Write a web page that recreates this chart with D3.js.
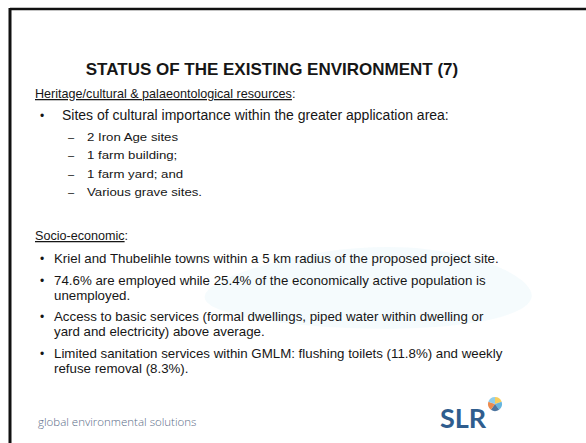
<!DOCTYPE html>
<html>
<head>
<meta charset="utf-8">
<script src="https://cdn.jsdelivr.net/npm/d3@7.9.0/dist/d3.min.js"></script>
<style>
  html, body { margin: 0; padding: 0; background: #fff; }
  svg { display: block; }
  text { font-family: "Liberation Sans", Arial, sans-serif; fill: #161616; }
</style>
</head>
<body>
<svg id="slide" width="586" height="443"></svg>
<script>
// --- Slide content ---
const title = 'STATUS OF THE EXISTING ENVIRONMENT (7)';
const headings = ['Heritage/cultural & palaeontological resources', 'Socio-economic'];
const heritageBullets = [['Sites of cultural importance within the greater application area:']];
const heritageSubItems = ['2 Iron Age sites', '1 farm building;', '1 farm yard; and', 'Various grave sites.'];
const socioBullets = [
  ['Kriel and Thubelihle towns within a 5 km radius of the proposed project site.'],
  ['74.6% are employed while 25.4% of the economically active population is', 'unemployed.'],
  ['Access to basic services (formal dwellings, piped water within dwelling or', 'yard and electricity) above average.'],
  ['Limited sanitation services within GMLM: flushing toilets (11.8%) and weekly', 'refuse removal (8.3%).']
];
const footerText = 'global environmental solutions';
const logoText = 'SLR';

const svg = d3.select('#slide');
const W = 586, H = 443;

// faint watermark swoosh
svg.append('path')
  .attr('d', d3.line().curve(d3.curveBasisClosed)([[150, 300], [330, 240], [480, 250], [560, 300], [470, 330], [300, 330]]))
  .attr('fill', '#eef9fb').attr('opacity', 0.6);

// slide frame (left + top rule)
svg.append('line').attr('x1', 10).attr('x2', W).attr('y1', 9).attr('y2', 9)
  .attr('stroke', '#111').attr('stroke-width', 2.5);
svg.append('line').attr('x1', 10).attr('x2', 10).attr('y1', 8).attr('y2', H)
  .attr('stroke', '#111').attr('stroke-width', 3);

// title
svg.append('text')
  .attr('x', 272).attr('y', 75)
  .attr('text-anchor', 'middle')
  .style('font-weight', 'bold').style('font-size', '17px')
  .text(title);

function heading(txt, y) {
  const t = svg.append('text').attr('x', 35).attr('y', y)
    .style('font-size', '12.6px');
  t.append('tspan').style('text-decoration', 'underline').text(txt);
  t.append('tspan').text(':');
}

function bullets(list, y0, textX, gap, lineH, size) {
  let y = y0;
  list.forEach(lines => {
    svg.append('text').attr('x', 40).attr('y', y).style('font-size', '12px').text('•');
    lines.forEach((ln, i) => {
      svg.append('text').attr('x', textX).attr('y', y + i * lineH)
        .style('font-size', size + 'px').text(ln);
    });
    y += (lines.length - 1) * lineH + gap;
  });
}

heading(headings[0], 98);
bullets(heritageBullets, 120, 62, 20, 14, 14);

const ySub = d3.scalePoint().domain(heritageSubItems).range([141, 196]);
heritageSubItems.forEach(s => {
  svg.append('text').attr('x', 68).attr('y', ySub(s)).style('font-size', '11px').text('–');
  svg.append('text')
    .attr('transform', `translate(87,${ySub(s)}) scale(1.15,1)`)
    .style('font-size', '11.5px').text(s);
});

heading(headings[1], 240);
bullets(socioBullets, 263, 54, 21.5, 15, 13.3);

// footer
svg.append('text').attr('x', 38).attr('y', 426)
  .style('font-family', '"Open Sans", Lato, sans-serif')
  .style('font-size', '11.5px').style('fill', '#5b6d88')
  .style('font-weight', 300)
  .text(footerText);

svg.append('text').attr('x', 440).attr('y', 428)
  .style('font-family', 'Lato, "Open Sans", sans-serif')
  .style('font-weight', 'bold').style('font-size', '27px').style('fill', '#2f5d8e')
  .text(logoText);

// small globe mark beside the logo
const globe = svg.append('g').attr('transform', 'translate(495,404)');
const arc = d3.arc().innerRadius(0).outerRadius(7);
const globeColors = ['#f4c542', '#4aa8d8', '#2f5d8e', '#e8752f', '#7cc6e8'];
const pie = d3.pie().sort(null)(globeColors.map(() => 1));
globe.selectAll('path').data(pie).join('path')
  .attr('d', arc).attr('fill', (d, i) => globeColors[i]).attr('opacity', 0.85);
</script>
</body>
</html>
